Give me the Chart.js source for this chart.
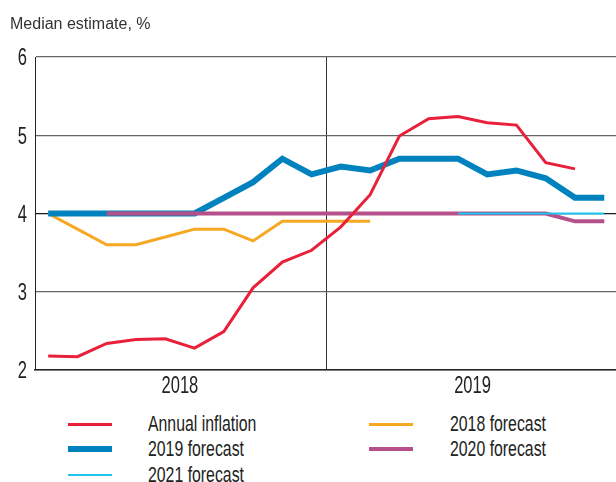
<!DOCTYPE html>
<html>
<head>
<meta charset="utf-8">
<script src="https://cdn.jsdelivr.net/npm/chart.js@4.4.1/dist/chart.umd.min.js"></script>
<style>
  html, body { margin: 0; padding: 0; background: #fff; overflow: hidden; }
  #wrap { position: relative; width: 616px; height: 482px; }
  #title { position: absolute; left: 10px; top: 14px; font: 16px "Liberation Sans", Arial, sans-serif; line-height: 20px; color: #333; }
  #chart-box { position: absolute; left: 0; top: 0; width: 616px; height: 400px; }
  .lg-line { position: absolute; width: 44px; }
  .lg-text { position: absolute; font: 22px "Liberation Sans", Arial, sans-serif; line-height: 26px; color: #222; white-space: nowrap; transform: scaleX(0.72); transform-origin: left center; }
</style>
</head>
<body>
<div id="wrap">
  <div id="chart-box"><canvas id="chart" width="616" height="400"></canvas></div>
  <div id="title">Median estimate, %</div>
  <div id="legend"></div>
</div>
<script>
// survey rounds, 10 per year
const periods = ['2018:1','2018:2','2018:3','2018:4','2018:5','2018:6','2018:7','2018:8','2018:9','2018:10',
                 '2019:1','2019:2','2019:3','2019:4','2019:5','2019:6','2019:7','2019:8','2019:9','2019:10']
const yearLabels = ['2018', '2019']

const annualInflation = [2.18, 2.17, 2.34, 2.39, 2.40, 2.28, 2.49, 3.05, 3.38, 3.53, 3.83, 4.24, 4.99, 5.21, 5.24, 5.16, 5.13, 4.65, 4.57, null]
const forecast2018 = [4.0, 3.8, 3.6, 3.6, 3.7, 3.8, 3.8, 3.65, 3.9, 3.9, 3.9, 3.9, null, null, null, null, null, null, null, null]
const forecast2019 = [4.0, 4.0, 4.0, 4.0, 4.0, 4.0, 4.2, 4.4, 4.7, 4.5, 4.6, 4.55, 4.7, 4.7, 4.7, 4.5, 4.55, 4.45, 4.2, 4.2]
const forecast2020 = [null, null, 4.0, 4.0, 4.0, 4.0, 4.0, 4.0, 4.0, 4.0, 4.0, 4.0, 4.0, 4.0, 4.0, 4.0, 4.0, 4.0, 3.9, 3.9]
const forecast2021 = [null, null, null, null, null, null, null, null, null, null, null, null, null, null, 4.0, 4.0, 4.0, 4.0, 4.0, 4.0]

const labelFont = '23px "Liberation Sans", Arial, sans-serif'
const squeeze = 0.72

function points(values){
    return values.map((v, i) => ({ x: i, y: v }))
}

const series = [
    { label: 'Annual inflation', data: annualInflation, color: '#e8203a', width: 3, order: 0 },
    { label: '2018 forecast', data: forecast2018, color: '#f7a823', width: 3, order: 4 },
    { label: '2019 forecast', data: forecast2019, color: '#0082be', width: 6, order: 3 },
    { label: '2020 forecast', data: forecast2020, color: '#b5508a', width: 4, order: 2 },
    { label: '2021 forecast', data: forecast2021, color: '#1ec5ee', width: 2, order: 1 },
]

// the reference uses a condensed face, so tick labels are redrawn squeezed
const condensedTicks = {
    id: 'condensedTicks',
    afterDraw(chart){
        const { ctx } = chart
        const x = chart.scales.x, y = chart.scales.y
        ctx.save()
        ctx.font = labelFont
        ctx.fillStyle = '#222'
        ctx.textBaseline = 'middle'
        y.ticks.forEach(t => {
            const py = y.getPixelForValue(t.value)
            ctx.save()
            ctx.translate(27, py + 2)
            ctx.scale(squeeze, 1)
            ctx.textAlign = 'right'
            ctx.fillText(t.label, 0, 0)
            ctx.restore()
        })
        x.ticks.forEach(t => {
            if(!t.label) return
            const px = x.getPixelForValue(t.value)
            ctx.save()
            ctx.translate(px, y.bottom + 17)
            ctx.scale(squeeze, 1)
            ctx.textAlign = 'center'
            ctx.fillText(t.label, 0, 0)
            ctx.restore()
        })
        ctx.restore()
    }
}

const ctx = document.getElementById('chart').getContext('2d')
const chart = new Chart(ctx, {
    type: 'line',
    data: {
        datasets: series.map(s => ({
            label: s.label,
            data: points(s.data),
            borderColor: s.color,
            backgroundColor: s.color,
            borderWidth: s.width,
            pointRadius: 0,
            tension: 0,
            order: s.order,
        }))
    },
    options: {
        responsive: false,
        animation: false,
        layout: { padding: { top: 57, left: 0, right: 0, bottom: 0 } },
        plugins: { legend: { display: false }, tooltip: { enabled: false } },
        scales: {
            x: {
                type: 'linear',
                min: -0.45,
                max: 19.4,
                afterBuildTicks: (axis) => {
                    axis.ticks = [{ value: 4.5 }, { value: 9.5 }, { value: 14.5 }]
                },
                afterFit: (scale) => { scale.height = 30 },
                ticks: {
                    autoSkip: false,
                    maxRotation: 0,
                    color: 'rgba(0,0,0,0)',
                    callback: (v) => v === 4.5 ? yearLabels[0] : (v === 14.5 ? yearLabels[1] : '')
                },
                grid: {
                    drawTicks: false,
                    lineWidth: 1,
                    color: (c) => c.tick && c.tick.value === 9.5 ? '#333' : 'rgba(0,0,0,0)'
                },
                border: { display: true, color: '#222', width: 1.5 }
            },
            y: {
                min: 2,
                max: 6,
                afterFit: (scale) => { scale.width = 35 },
                ticks: { stepSize: 1, color: 'rgba(0,0,0,0)' },
                grid: {
                    drawTicks: false,
                    lineWidth: 1.2,
                    color: (c) => c.tick && c.tick.value === 4 ? '#1a1a1a' : '#666'
                },
                border: { display: true, color: '#222', width: 1 }
            }
        }
    },
    plugins: [condensedTicks]
})

// html legend, two columns
const legendEl = document.getElementById('legend')
const cols = [68, 369]
const textCols = [148, 450]
const rows = [424, 449, 475]
series.forEach((s, i) => {
    const col = i % 2, row = Math.floor(i / 2)
    const line = document.createElement('div')
    line.className = 'lg-line'
    line.style.left = cols[col] + 'px'
    line.style.top = (rows[row] - s.width / 2) + 'px'
    line.style.height = s.width + 'px'
    line.style.background = s.color
    legendEl.appendChild(line)
    const txt = document.createElement('div')
    txt.className = 'lg-text'
    txt.style.left = textCols[col] + 'px'
    txt.style.top = (rows[row] - 13) + 'px'
    txt.textContent = s.label
    legendEl.appendChild(txt)
})
</script>
</body>
</html>
